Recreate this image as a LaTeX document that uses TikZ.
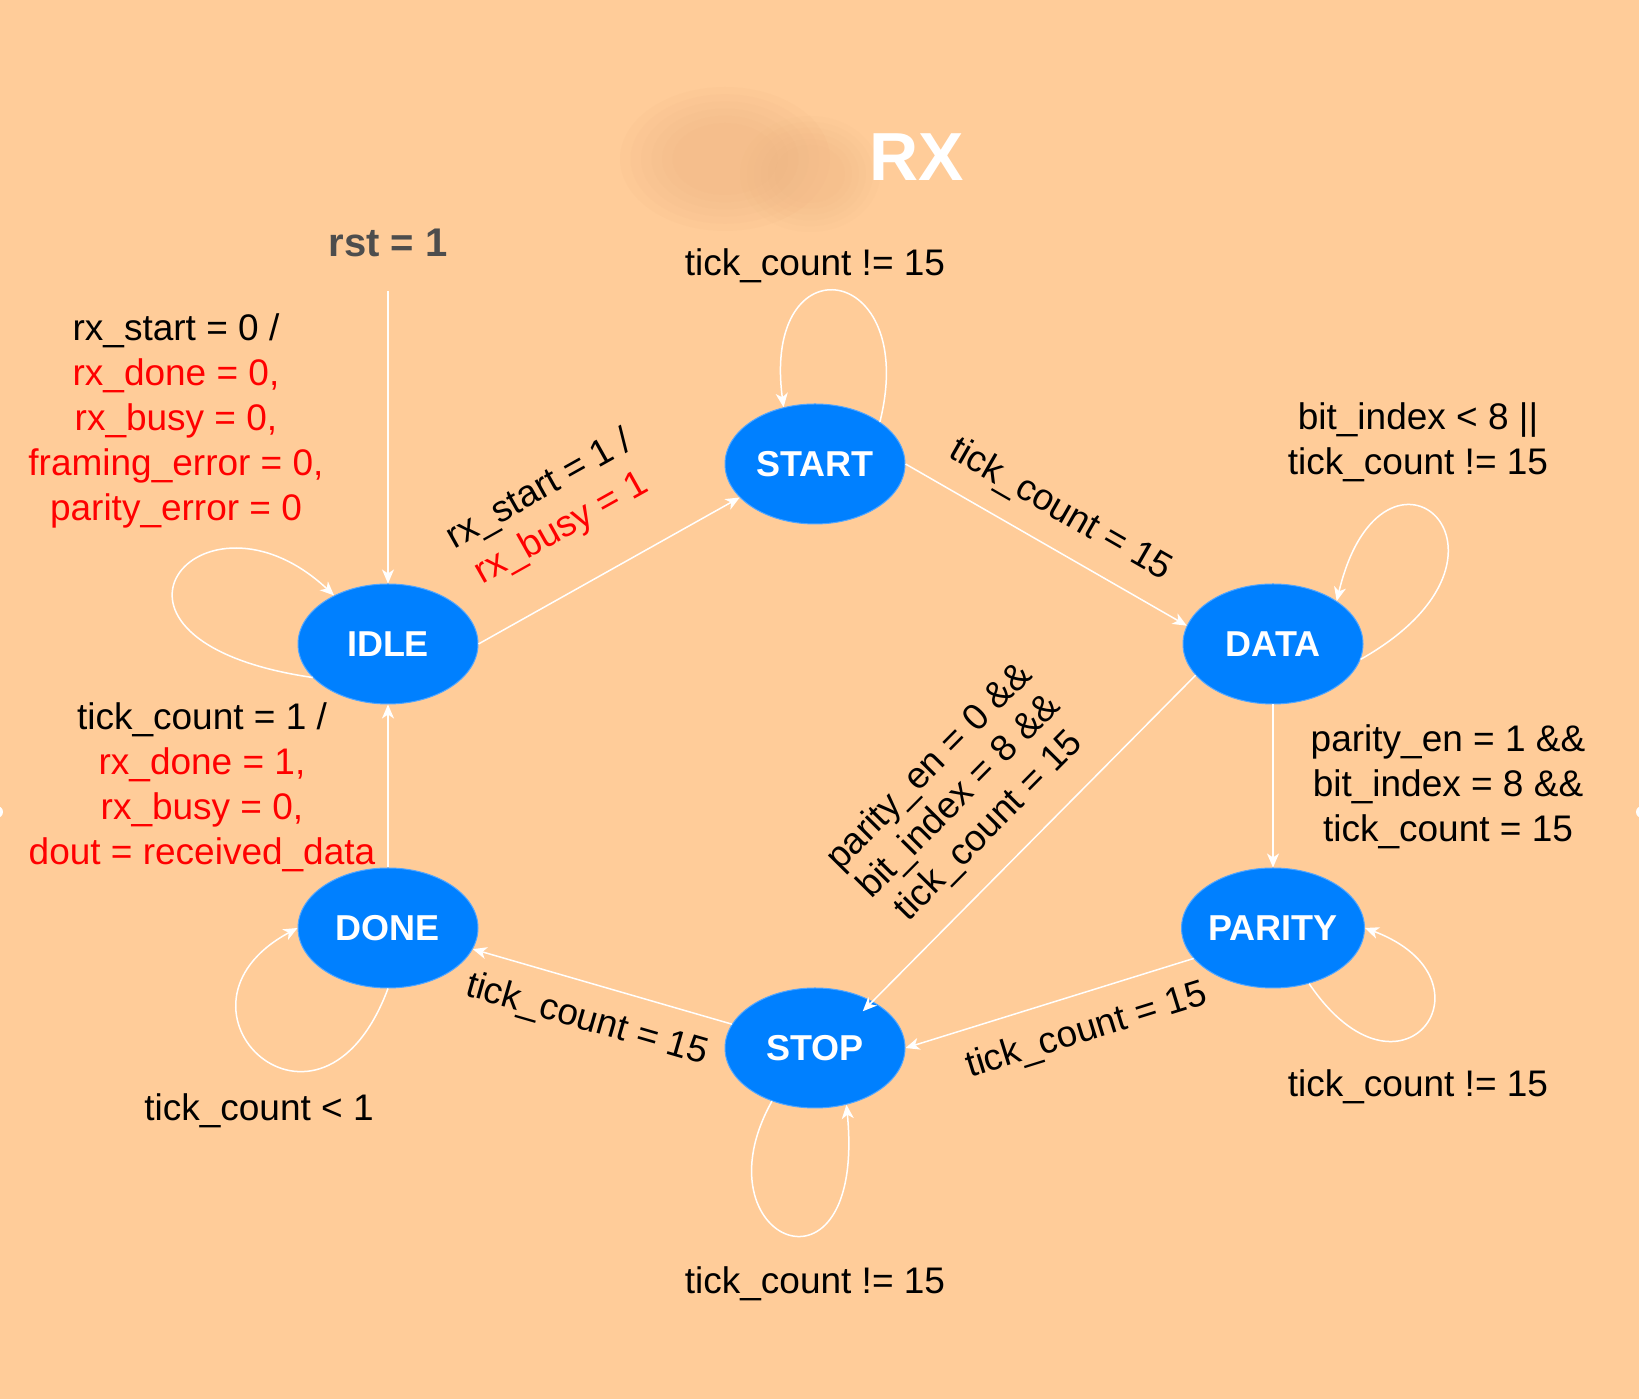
\documentclass[tikz,border=0pt]{standalone}
\usepackage{fontspec}
\setmainfont{Liberation Sans}
\usetikzlibrary{shapes.geometric,arrows.meta}
\definecolor{peach}{RGB}{255,204,153}
\definecolor{smudge}{RGB}{236,178,128}
\definecolor{stateblue}{RGB}{0,128,255}
\definecolor{stateedge}{RGB}{80,165,255}
\definecolor{rstgray}{RGB}{77,77,77}
\tikzset{
  state/.style={ellipse, fill=stateblue, draw=stateedge, line width=1pt, minimum width=180pt, minimum height=120pt, inner sep=0pt, text=white, font=\fontsize{36}{40}\selectfont\bfseries},
  trans/.style={draw=white, line width=1.5pt, -{Stealth[length=14pt,width=12pt,inset=4pt]}},
  lbl/.style={font=\fontsize{37}{45}\selectfont, align=center, inner sep=3pt},
}
\newcommand{\rd}[1]{\textcolor{red}{#1}}

\begin{document}
\begin{tikzpicture}[x=1pt,y=1pt]
			\useasboundingbox (0,0) rectangle (1639,1399);
			\fill[peach] (0,0) rectangle (1639,1399);
			\fill[white] (-3,587) circle (6);
			\fill[white] (1642,587) circle (6);
			\foreach \r in {1,0.9,0.8,0.7,0.6,0.5}{
				\fill[smudge, opacity=0.09] (725,1240) ellipse ({105*\r} and {72*\r});
				\fill[smudge, opacity=0.07] (810,1225) ellipse ({70*\r} and {58*\r});
			}
			\node[text=white, font=\fontsize{68}{72}\selectfont\bfseries] (title) at (917,1242) {RX};
			\node[text=rstgray, font=\fontsize{40}{46}\selectfont\bfseries] (rst) at (388,1156) {rst = 1};
			\coordinate (rstend) at (388,1108);

			\node[state] (idle) at (388,755) {IDLE};
			\node[state] (start) at (815,935) {START};
			\node[state] (data) at (1273,755) {DATA};
			\node[state] (parity) at (1273,471) {PARITY};
			\node[state] (stop) at (815,351) {STOP};
			\node[state] (done) at (388,471) {DONE};

			\draw[trans] (rstend) -- (idle);
			\draw[trans] (idle.east) -- node[lbl, sloped, above=38pt, pos=0.43] (lidlestart) {rx\_start = 1 /\\\rd{rx\_busy = 1}} (start.204);
			\draw[trans] (start.east) -- node[lbl, sloped, above=16pt, pos=0.485] (lstartdata) {tick\_count = 15} (data.168);
			\draw[trans] (data) -- (parity);
			\draw[trans, shorten >=-14pt] (data.202) -- node[lbl, sloped, above=19pt, pos=0.55, font=\fontsize{37}{42}\selectfont] (ldatastop) {parity\_en = 0 \&\&\\bit\_index = 8 \&\&\\tick\_count = 15} (stop.39);
			\draw[trans] (parity.201) -- node[lbl, sloped, below=17pt, pos=0.41] (lparitystop) {tick\_count = 15} (stop.east);
			\draw[trans] (stop.164) -- node[lbl, sloped, below=16pt, pos=0.52] (lstopdone) {tick\_count = 15} (done.346);
			\draw[trans] (done) -- (idle);

			\draw[trans] (start.33) .. controls +(40,160) and +(-22,168) .. (start.119);
			\draw[trans] (idle.204) .. controls +(-253,37) and +(-133,124) .. (idle.138);
			\draw[trans] (data.-10) .. controls +(188,106) and +(46,192) .. (data.34.5);
			\draw[trans] (parity.-57) .. controls +(92,-136) and +(138,-52) .. (parity.east);
			\draw[trans] (stop.231) .. controls +(-78,-140) and +(20,-208) .. (stop.-61.5);
			\draw[trans] (done.south) .. controls +(-68,-182) and +(-148,-80) .. (done.west);

			\node[lbl] (lstartloop) at (815,1133) {tick\_count != 15};
			\node[lbl] (lidleloop) at (176,978) {rx\_start = 0 /\\\rd{rx\_done = 0,}\\\rd{rx\_busy = 0,}\\\rd{framing\_error = 0,}\\\rd{parity\_error = 0}};
			\node[lbl] (ldataloop) at (1418,957) {bit\_index < 8 ||\\tick\_count != 15};
			\node[lbl] (lparityloop) at (1418,312) {tick\_count != 15};
			\node[lbl] (lstoploop) at (815,115) {tick\_count != 15};
			\node[lbl] (ldoneloop) at (259,288) {tick\_count < 1};
			\node[lbl] (ldoneidle) at (202,612) {tick\_count = 1 /\\\rd{rx\_done = 1,}\\\rd{rx\_busy = 0,}\\\rd{dout = received\_data}};
			\node[lbl] (ldataparity) at (1448,612) {parity\_en = 1 \&\&\\bit\_index = 8 \&\&\\tick\_count = 15};
		\end{tikzpicture}
\end{document}
